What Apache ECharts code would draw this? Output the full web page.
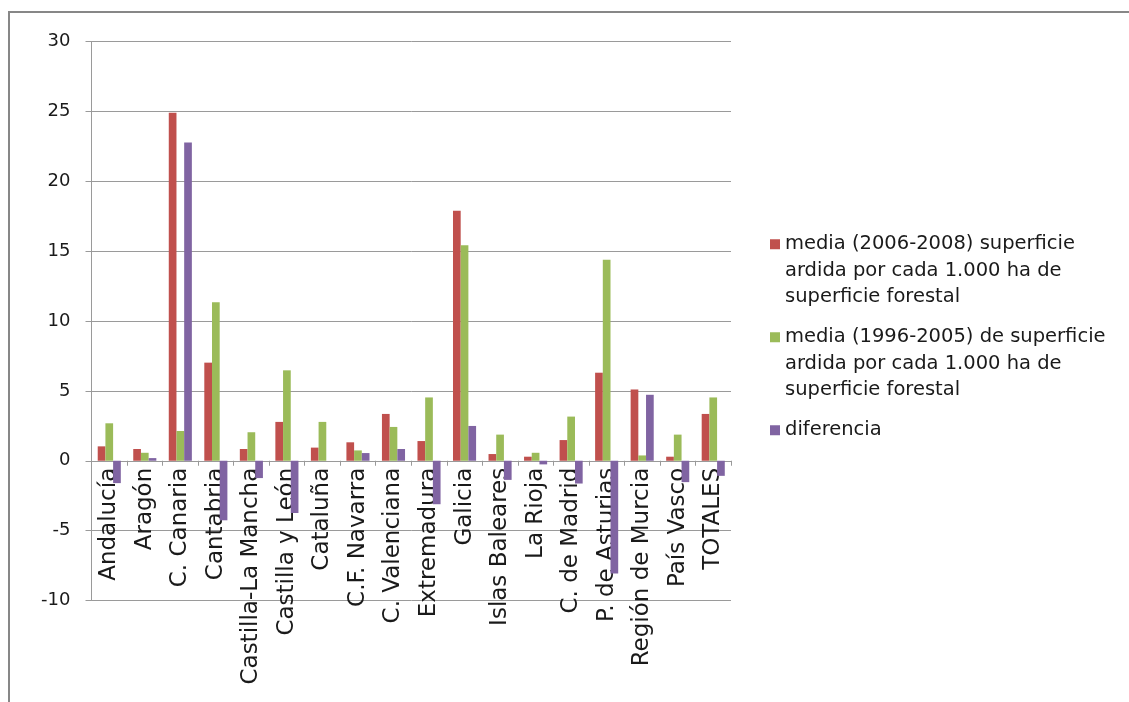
<!DOCTYPE html>
<html>
<head>
<meta charset="utf-8">
<script src="https://cdn.jsdelivr.net/npm/echarts@6/dist/echarts.min.js"></script>
<style>
html,body{margin:0;padding:0;background:#fff;}
#chart{width:1129px;height:702px;}
</style>
</head>
<body>
<div id="chart"></div>
<script>
const categories = ['Andalucía','Aragón','C. Canaria','Cantabria','Castilla-La Mancha','Castilla y León','Cataluña','C.F. Navarra','C. Valenciana','Extremadura','Galicia','Islas Baleares','La Rioja','C. de Madrid','P. de Asturias','Región de Murcia','País Vasco','TOTALES'];
const seriesNames = [
  'media (2006-2008) superficie\nardida por cada 1.000 ha de\nsuperficie forestal',
  'media (1996-2005) de superficie\nardida por cada 1.000 ha de\nsuperficie forestal',
  'diferencia'
];
const media0608 = [1.03, 0.84, 24.9, 7.02, 0.84, 2.78, 0.94, 1.32, 3.35, 1.41, 17.89, 0.48, 0.29, 1.48, 6.3, 5.1, 0.29, 3.35];
const media9605 = [2.68, 0.57, 2.13, 11.35, 2.04, 6.47, 2.78, 0.74, 2.42, 4.53, 15.42, 1.87, 0.57, 3.16, 14.39, 0.38, 1.87, 4.53];
const diferencia = [-1.6, 0.19, 22.77, -4.26, -1.24, -3.74, null, 0.55, 0.84, -3.11, 2.49, -1.37, -0.26, -1.63, -8.07, 4.72, -1.53, -1.08];
const yTicks = [-10, -5, 0, 5, 10, 15, 20, 25, 30];
const yMin = -10, yMax = 30;

const FONT = 'DejaVu Sans';
const colors = ['#C0504D', '#9BBB59', '#8064A2'];
const chart = echarts.init(document.getElementById('chart'));
const lh = 26.5;
const gridTop = 41.5, gridBottom = 101.5, H = 702;
const plotH = H - gridTop - gridBottom;
// move x axis (line, ticks, labels) up to the zero value
const xOffset = -plotH * (0 - yMin) / (yMax - yMin);
chart.setOption({
  animation: false,
  color: colors,
  graphic: [{
    type: 'rect', silent: true,
    shape: {x: 9, y: 12, width: 1140, height: 720},
    style: {fill: 'none', stroke: '#878787', lineWidth: 2}
  }],
  legend: {
    orient: 'vertical', left: 770, top: 178, padding: 0,
    itemWidth: 10, itemHeight: 10, itemGap: -39.5,
    icon: 'rect',
    textStyle: {fontFamily: FONT, fontSize: 19.5, color: '#1a1a1a', lineHeight: lh},
    formatter: function (name) {
      const n = name.split('\n').length;
      let s = '\n\n' + name;
      for (let i = n; i < 3; i++) s += '\n ';
      return s;
    },
    data: seriesNames
  },
  grid: {left: 91.5, right: 398, top: gridTop, bottom: gridBottom, containLabel: false, outerBoundsMode: 'none'},
  xAxis: {
    type: 'category', data: categories,
    offset: xOffset,
    axisLine: {onZero: false, lineStyle: {color: '#9a9a9a', width: 1}},
    axisTick: {show: true, length: 5, lineStyle: {color: '#9a9a9a'}},
    axisLabel: {rotate: 90, interval: 0, margin: 7, fontFamily: FONT, fontSize: 23, color: '#1a1a1a'}
  },
  yAxis: {
    type: 'value', min: yMin, max: yMax, interval: 5,
    axisLine: {show: true, lineStyle: {color: '#9a9a9a', width: 1}},
    axisTick: {show: true, length: 6, lineStyle: {color: '#9a9a9a'}},
    splitLine: {show: true, lineStyle: {color: '#9a9a9a', width: 1}},
    axisLabel: {margin: 21, fontFamily: FONT, fontSize: 18, color: '#1a1a1a',
      formatter: v => yTicks.includes(v) ? String(v) : ''}
  },
  series: [
    {name: seriesNames[0], type: 'bar', data: media0608, barGap: '0%', barCategoryGap: '35%'},
    {name: seriesNames[1], type: 'bar', data: media9605, barGap: '0%', barCategoryGap: '35%'},
    {name: seriesNames[2], type: 'bar', data: diferencia, barGap: '0%', barCategoryGap: '35%'}
  ]
});
</script>
</body>
</html>
